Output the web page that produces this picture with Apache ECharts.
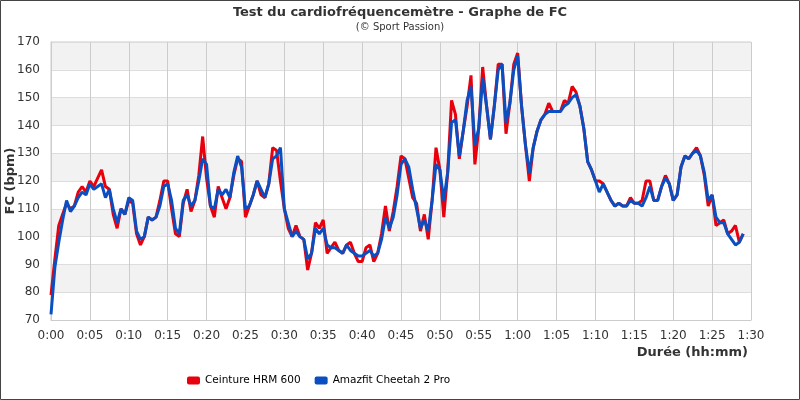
<!DOCTYPE html>
<html>
<head>
<meta charset="utf-8">
<script src="https://cdn.jsdelivr.net/npm/echarts@6/dist/echarts.min.js"></script>
<style>
  html, body { margin: 0; padding: 0; background: #fff; }
  #chart { width: 800px; height: 400px; }
</style>
</head>
<body>
<div id="chart"></div>
<script>
// sample times, in minutes from the start
const minutes = [
  0, 0.5, 1, 1.5, 2, 2.5, 3, 3.5, 4, 4.5, 5, 5.5, 6, 6.5, 7, 7.5, 8, 8.5, 9, 9.5,
  10, 10.5, 11, 11.5, 12, 12.5, 13, 13.5, 14, 14.5, 15, 15.5, 16, 16.5, 17, 17.5, 18, 18.5, 19, 19.5,
  20, 20.5, 21, 21.5, 22, 22.5, 23, 23.5, 24, 24.5, 25, 25.5, 26, 26.5, 27, 27.5, 28, 28.5, 29, 29.5,
  30, 30.5, 31, 31.5, 32, 32.5, 33, 33.5, 34, 34.5, 35, 35.5, 36, 36.5, 37, 37.5, 38, 38.5, 39, 39.5,
  40, 40.5, 41, 41.5, 42, 42.5, 43, 43.5, 44, 44.5, 45, 45.5, 46, 46.5, 47, 47.5, 48, 48.5, 49, 49.5,
  50, 50.5, 51, 51.5, 52, 52.5, 53, 53.5, 54, 54.5, 55, 55.5, 56, 56.5, 57, 57.5, 58, 58.5, 59, 59.5,
  60, 60.5, 61, 61.5, 62, 62.5, 63, 63.5, 64, 64.5, 65, 65.5, 66, 66.5, 67, 67.5, 68, 68.5, 69, 69.5,
  70, 70.5, 71, 71.5, 72, 72.5, 73, 73.5, 74, 74.5, 75, 75.5, 76, 76.5, 77, 77.5, 78, 78.5, 79, 79.5,
  80, 80.5, 81, 81.5, 82, 82.5, 83, 83.5, 84, 84.5, 85, 85.5, 86, 86.5, 87, 87.5, 88, 88.5, 89
]

// Ceinture HRM 600 (red)
const hrmBelt = [
  79, 92, 104, 108, 112, 110, 111, 116, 118, 116, 120, 118, 121, 124, 118, 117, 108, 103, 110, 108,
  113, 112, 101, 97, 100, 107, 106, 107, 113, 120, 120, 110, 101, 100, 112, 117, 109, 113, 122, 136,
  121, 111, 107, 118, 114, 110, 114, 122, 128, 127, 107, 111, 115, 120, 115, 114, 119, 132, 131, 120,
  110, 103, 100, 104, 100, 99, 88, 94, 105, 103, 106, 94, 96, 98, 95, 94, 97, 98, 94, 91,
  91, 96, 97, 91, 94, 101, 111, 102, 109, 118, 129, 128, 121, 114, 112, 102, 108, 99, 113, 132,
  124, 107, 123, 149, 144, 128, 138, 147, 158, 126, 139, 161, 147, 135, 147, 162, 162, 137, 148, 162,
  166, 147, 133, 120, 132, 138, 142, 144, 148, 145, 145, 145, 149, 148, 154, 152, 147, 139, 127, 124,
  120, 120, 119, 116, 113, 111, 112, 111, 111, 114, 112, 112, 113, 120, 120, 113, 113, 118, 122, 119,
  113, 115, 125, 129, 128, 130, 132, 129, 122, 111, 115, 104, 105, 106, 101, 102, 104, 98, 101
]

// Amazfit Cheetah 2 Pro (blue)
const amazfit = [
  72, 89, 98, 106, 113, 109, 111, 114, 116, 115, 119, 117, 118, 119, 114, 117, 110, 105, 110, 108,
  114, 113, 102, 99, 100, 107, 106, 107, 111, 118, 119, 113, 103, 101, 113, 115, 111, 113, 120, 128,
  126, 111, 110, 117, 115, 117, 114, 123, 129, 125, 110, 111, 115, 120, 117, 114, 119, 128, 129, 132,
  110, 105, 100, 102, 100, 99, 92, 94, 103, 101, 103, 97, 96, 96, 95, 94, 97, 95, 94, 93,
  93, 94, 95, 93, 94, 99, 107, 103, 107, 115, 126, 128, 125, 117, 110, 103, 106, 102, 113, 126,
  124, 113, 123, 141, 142, 129, 138, 149, 154, 133, 139, 157, 147, 135, 147, 160, 162, 141, 148, 160,
  165, 147, 133, 123, 132, 138, 142, 144, 145, 145, 145, 145, 147, 148, 150, 151, 147, 139, 127, 124,
  120, 116, 119, 116, 113, 111, 112, 111, 111, 113, 112, 112, 111, 114, 118, 113, 113, 118, 121, 119,
  113, 115, 125, 129, 128, 130, 131, 129, 123, 113, 115, 107, 105, 105, 101, 99, 97, 98, 101
]

const seriesNames = ['Ceinture HRM 600', 'Amazfit Cheetah 2 Pro']

const font = 'DejaVu Sans'

const fmtTime = (v) => {
    const h = Math.floor(v / 60)
    const m = v % 60
    return h + ':' + (m < 10 ? '0' + m : m)
}

const chart = echarts.init(document.getElementById('chart'))

const options = {
    animation: false,
    backgroundColor: '#fff',
    textStyle: { fontFamily: font },
    title: {
        left: 'center',
        top: 1,
        text: 'Test du cardiofréquencemètre - Graphe de FC',
        subtext: '(© Sport Passion)',
        itemGap: 3,
        textStyle: { fontSize: 13, fontWeight: 'bold', color: '#333' },
        subtextStyle: { fontSize: 10, color: '#333' }
    },
    legend: {
        left: 182,
        top: 370,
        icon: 'roundRect',
        itemWidth: 13,
        itemHeight: 8,
        itemGap: 14,
        textStyle: { fontSize: 10.5, color: '#000' },
        data: seriesNames
    },
    grid: {
        left: 51,
        right: 49,
        top: 42,
        bottom: 80,
        outerBoundsMode: 'none',
        show: true,
        borderColor: '#ccc',
        borderWidth: 1
    },
    xAxis: {
        type: 'value',
        min: 0,
        max: 90,
        interval: 5,
        name: 'Durée (hh:mm)',
        nameLocation: 'end',
        nameGap: -3,
        nameMoveOverlap: false,
        nameTextStyle: {
            fontSize: 13, fontWeight: 'bold', color: '#333',
            align: 'right', verticalAlign: 'top', padding: [26, 0, 0, 0]
        },
        axisLine: { lineStyle: { color: '#ccc' } },
        axisTick: { show: false },
        axisLabel: { formatter: fmtTime, fontSize: 12, color: '#333', margin: 10 },
        splitLine: { show: true, lineStyle: { color: '#ccc' } }
    },
    yAxis: {
        type: 'value',
        min: 70,
        max: 170,
        interval: 10,
        name: 'FC (bpm)',
        nameLocation: 'middle',
        nameGap: 34,
        nameMoveOverlap: false,
        nameTextStyle: { fontSize: 13, fontWeight: 'bold', color: '#333' },
        axisLine: { show: true, lineStyle: { color: '#ccc' } },
        axisTick: { show: false },
        axisLabel: { fontSize: 12, color: '#333', margin: 11 },
        splitLine: { show: true, lineStyle: { color: '#ddd' } },
        splitArea: { show: true, areaStyle: { color: ['#ffffff', '#f2f2f2'] } }
    },
    graphic: [{
        type: 'rect',
        silent: true,
        z: 100,
        shape: { x: 0.5, y: 0.5, width: 799, height: 399 },
        style: { fill: 'none', stroke: '#444', lineWidth: 1 }
    }],
    series: [
        {
            name: seriesNames[0],
            type: 'line',
            showSymbol: false,
            data: minutes.map((t, i) => [t, hrmBelt[i]]),
            itemStyle: { color: '#e8000c' },
            lineStyle: { color: '#e8000c', width: 3 }
        },
        {
            name: seriesNames[1],
            type: 'line',
            showSymbol: false,
            data: minutes.map((t, i) => [t, amazfit[i]]),
            itemStyle: { color: '#0a4fc2' },
            lineStyle: { color: '#0a4fc2', width: 3 }
        }
    ]
}

chart.setOption(options)
</script>
</body>
</html>
